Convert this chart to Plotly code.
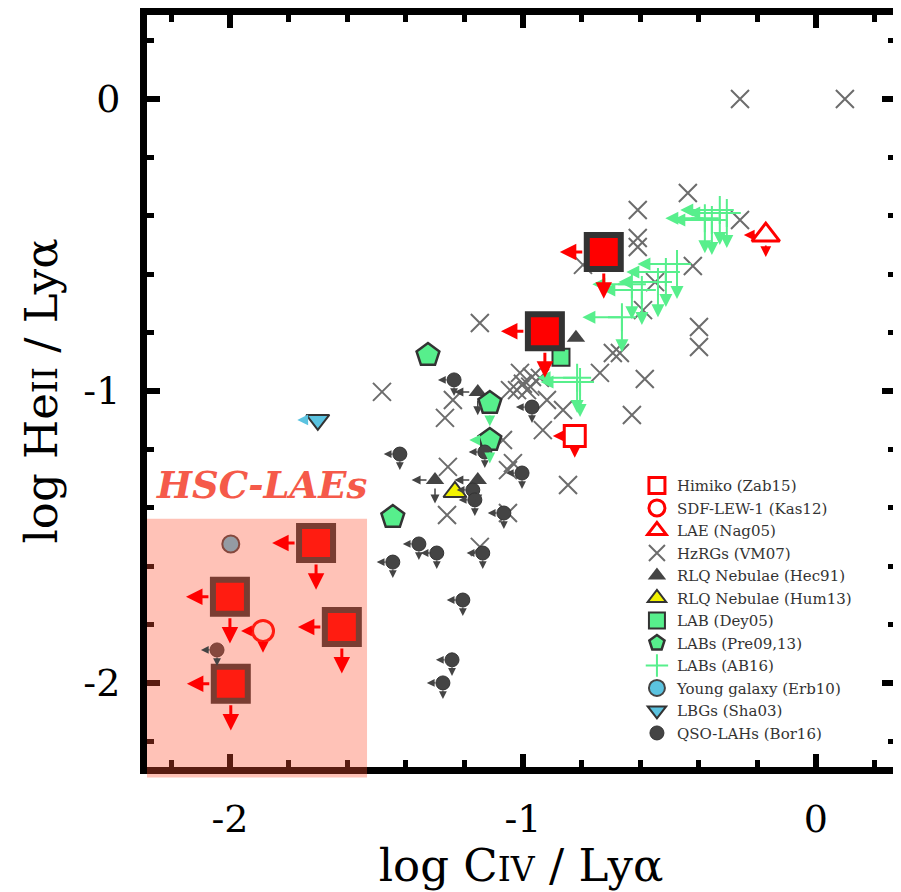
"""log HeII/Lya vs log CIV/Lya diagnostic diagram with HSC-LAEs."""

import plotly.graph_objects as go

X_RANGE = [-2.283, 0.270]
Y_RANGE = [-2.288, 0.288]
TICK_VALS = [-2, -1, 0]
TICK_TEXT = ["-2", "-1", "0"]

# HSC-LAEs (upper limits on both ratios)
hsc_civ = [-1.706, -2.000, -1.618, -1.997, -0.724, -0.925]
hsc_heii = [-1.521, -1.705, -1.808, -2.003, -0.524, -0.795]

himiko_civ, himiko_heii = [-0.823], [-1.154]
sdf_civ, sdf_heii = [-1.887], [-1.822]
nag_civ, nag_heii = [-0.171], [-0.466]

hzrg_civ = [-0.259, 0.099, -0.437, -0.608, -0.608, -0.608, -0.259, -0.420, -0.549,
            -0.399, -0.399, -0.693, -0.669, -0.584, -0.628, -0.795, -0.590, -0.737,
            -1.010, -0.969, -1.044, -1.020, -0.918, -0.863, -0.932, -1.068, -1.147,
            -1.481, -1.239, -1.266, -0.942, -0.986, -1.256, -1.034, -1.051, -0.846,
            -1.259, -1.051, -1.147, -1.000, -0.975]
hzrg_heii = [0.000, 0.000, -0.322, -0.380, -0.476, -0.507, -0.414, -0.572, -0.627,
             -0.781, -0.849, -0.870, -0.870, -0.959, -1.082, -0.568, -0.723, -0.938,
             -0.938, -0.952, -0.997, -0.997, -1.031, -1.065, -1.134, -1.168, -0.767,
             -1.003, -1.031, -1.092, -0.955, -0.997, -1.260, -1.247, -1.271, -1.322,
             -1.425, -1.418, -1.534, -0.975, -0.985]

hec_civ = [-0.819, -1.154, -1.300, -1.154]
hec_heii = [-0.818, -1.003, -1.305, -1.305]

hum_civ, hum_heii = [-1.232], [-1.346]
dey_civ, dey_heii = [-0.870], [-0.884]

pre_civ = [-1.324, -1.113, -1.113, -1.444]
pre_heii = [-0.877, -1.041, -1.168, -1.432]

ab_civ = [-0.304, -0.328, -0.355, -0.379, -0.474, -0.512, -0.539, -0.594, -0.628,
          -0.662, -0.805, -0.815]
ab_heii = [-0.390, -0.380, -0.414, -0.408, -0.565, -0.592, -0.627, -0.654, -0.634,
           -0.747, -0.969, -0.955]

erb_civ, erb_heii = [-1.997], [-1.524]
sha_civ, sha_heii = [-1.700], [-1.099]

qso_civ = [-1.235, -0.969, -1.420, -1.130, -1.003, -1.171, -1.164, -1.065, -1.355,
           -1.294, -1.137, -1.444, -1.205, -1.242, -1.273, -2.044]
qso_heii = [-0.962, -1.055, -1.216, -1.209, -1.281, -1.339, -1.373, -1.418, -1.524,
            -1.555, -1.555, -1.586, -1.716, -1.921, -2.000, -1.887]

HSC_BOX_RIGHT = -1.532
HSC_BOX_TOP = -1.438

RED = "#ff0000"
GREEN = "#57ef8c"
DARK = "#444444"
BLUE = "#5bc3e0"
FONT = "DejaVu Serif"


def limit_arrows(xs, ys, dx, dy, color, width, head, standoff):
    """Upper-limit arrows (left for CIV, down for HeII) as annotations."""
    out = []
    for x, y in zip(xs, ys):
        for tx, ty in ((x - dx, y), (x, y - dy)):
            if (tx, ty) == (x, y):
                continue
            out.append(dict(
                x=tx, y=ty, ax=x, ay=y, xref="x", yref="y", axref="x", ayref="y",
                text="", showarrow=True, arrowhead=2, arrowsize=head,
                arrowwidth=width, arrowcolor=color, startstandoff=standoff,
            ))
    return out


fig = go.Figure()


def add(xs, ys, name, marker, legend=True):
    fig.add_trace(go.Scatter(
        x=xs, y=ys, mode="markers", name=name, marker=marker,
        showlegend=legend, legendgroup=name,
    ))


add(himiko_civ, himiko_heii, "Himiko (Zab15)",
    dict(symbol="square-open", size=21, color=RED, line=dict(width=3, color=RED)))
add(sdf_civ, sdf_heii, "SDF-LEW-1 (Kas12)",
    dict(symbol="circle-open", size=21, color=RED, line=dict(width=3, color=RED)))
add(nag_civ, nag_heii, "LAE (Nag05)",
    dict(symbol="triangle-up-open", size=24, color=RED, line=dict(width=3, color=RED)))
add(hzrg_civ, hzrg_heii, "HzRGs (VM07)",
    dict(symbol="x-thin", size=18, color="#6c6c6c", line=dict(width=2, color="#6c6c6c")))
add(hec_civ, hec_heii, "RLQ Nebulae (Hec91)",
    dict(symbol="triangle-up", size=16, color=DARK, line=dict(width=0)))
add(hum_civ, hum_heii, "RLQ Nebulae (Hum13)",
    dict(symbol="triangle-up", size=20, color="#f2f200", line=dict(width=2, color="#333")))
add(dey_civ, dey_heii, "LAB (Dey05)",
    dict(symbol="square", size=17, color=GREEN, line=dict(width=2, color="#333")))
add(pre_civ, pre_heii, "LABs (Pre09,13)",
    dict(symbol="pentagon", size=24, color=GREEN, line=dict(width=2.5, color="#333")))
add(ab_civ, ab_heii, "LABs (AB16)",
    dict(symbol="cross-thin", size=20, color=GREEN, line=dict(width=2, color=GREEN)))
add(erb_civ, erb_heii, "Young galaxy (Erb10)",
    dict(symbol="circle", size=17, color=BLUE, line=dict(width=2, color="#444")))
add(sha_civ, sha_heii, "LBGs (Sha03)",
    dict(symbol="triangle-down", size=20, color=BLUE, line=dict(width=2, color="#333")))
add(qso_civ, qso_heii, "QSO-LAHs (Bor16)",
    dict(symbol="circle", size=14, color=DARK, line=dict(width=1, color="#333")))
add(hsc_civ, hsc_heii, "HSC-LAEs",
    dict(symbol="square", size=34, color=RED, line=dict(width=6, color="#333")),
    legend=False)

arrows = []
arrows += limit_arrows(ab_civ, ab_heii, 0.135, 0.12, GREEN, 2, 1.3, 0)
arrows += limit_arrows(qso_civ, qso_heii, 0.055, 0.055, DARK, 1.3, 1.2, 6)
arrows += limit_arrows(hec_civ[1:], hec_heii[1:], 0.08, 0.08, DARK, 1.5, 1.2, 7)
arrows += limit_arrows(pre_civ[2:3], pre_heii[2:3], 0.07, 0.08, GREEN, 1.8, 1.2, 11)
arrows += limit_arrows(pre_civ[1:2], pre_heii[1:2], 0, 0.08, GREEN, 1.8, 1.2, 11)
arrows += limit_arrows(sha_civ, sha_heii, 0.07, 0, BLUE, 1.8, 1.2, 10)
arrows += limit_arrows(himiko_civ + sdf_civ + nag_civ, himiko_heii + sdf_heii + nag_heii,
                       0.075, 0.075, RED, 1.8, 1.2, 9)
arrows += limit_arrows(hsc_civ, hsc_heii, 0.15, 0.16, RED, 3, 1.1, 20)

arrows.append(dict(
    x=-1.892, y=-1.322, xref="x", yref="y", showarrow=False,
    text="<b><i>HSC-LAEs</i></b>",
    font=dict(family=FONT, size=37, color="#f55a4a"),
))

box_top = (HSC_BOX_TOP - Y_RANGE[0]) / (Y_RANGE[1] - Y_RANGE[0])
fig.add_shape(
    type="rect", xref="x", yref="paper",
    x0=X_RANGE[0], x1=HSC_BOX_RIGHT, y0=-0.014, y1=box_top,
    fillcolor="rgba(255,80,50,0.35)", line=dict(width=0), layer="above",
)

axis_style = dict(
    tickmode="array", tickvals=TICK_VALS, ticktext=TICK_TEXT,
    ticks="inside", ticklen=13, tickwidth=6, tickcolor="black",
    minor=dict(tickmode="linear", tick0=0, dtick=0.2, ticks="inside",
               ticklen=7, tickwidth=5, tickcolor="black"),
    showline=True, linewidth=7, linecolor="black", mirror="allticks",
    showgrid=False, zeroline=False, automargin=False,
    tickfont=dict(family=FONT, size=38, color="black"),
    ticklabelstandoff=12,
)

# The page body adds an 8px margin, so the figure is 8px smaller than the window.
fig.update_layout(
    width=893, height=884,
    margin=dict(l=139, r=6, t=7, b=125),
    paper_bgcolor="white", plot_bgcolor="white",
    xaxis=dict(range=X_RANGE, title=dict(
        text="log C<span style='font-size:33px'>IV</span> / Lyα",
        font=dict(family=FONT, size=45, color="black"), standoff=8), **axis_style),
    yaxis=dict(range=Y_RANGE, title=dict(
        text="log He<span style='font-size:33px'>II</span> / Lyα",
        font=dict(family=FONT, size=45, color="black"), standoff=14), **axis_style),
    annotations=arrows,
    legend=dict(
        x=0.655, y=0.396, xanchor="left", yanchor="top",
        bgcolor="rgba(0,0,0,0)", traceorder="grouped", tracegroupgap=0,
        font=dict(family=FONT, size=15, color="#333"),
        itemsizing="trace",
    ),
    showlegend=True,
)

fig.write_html("out.html")
